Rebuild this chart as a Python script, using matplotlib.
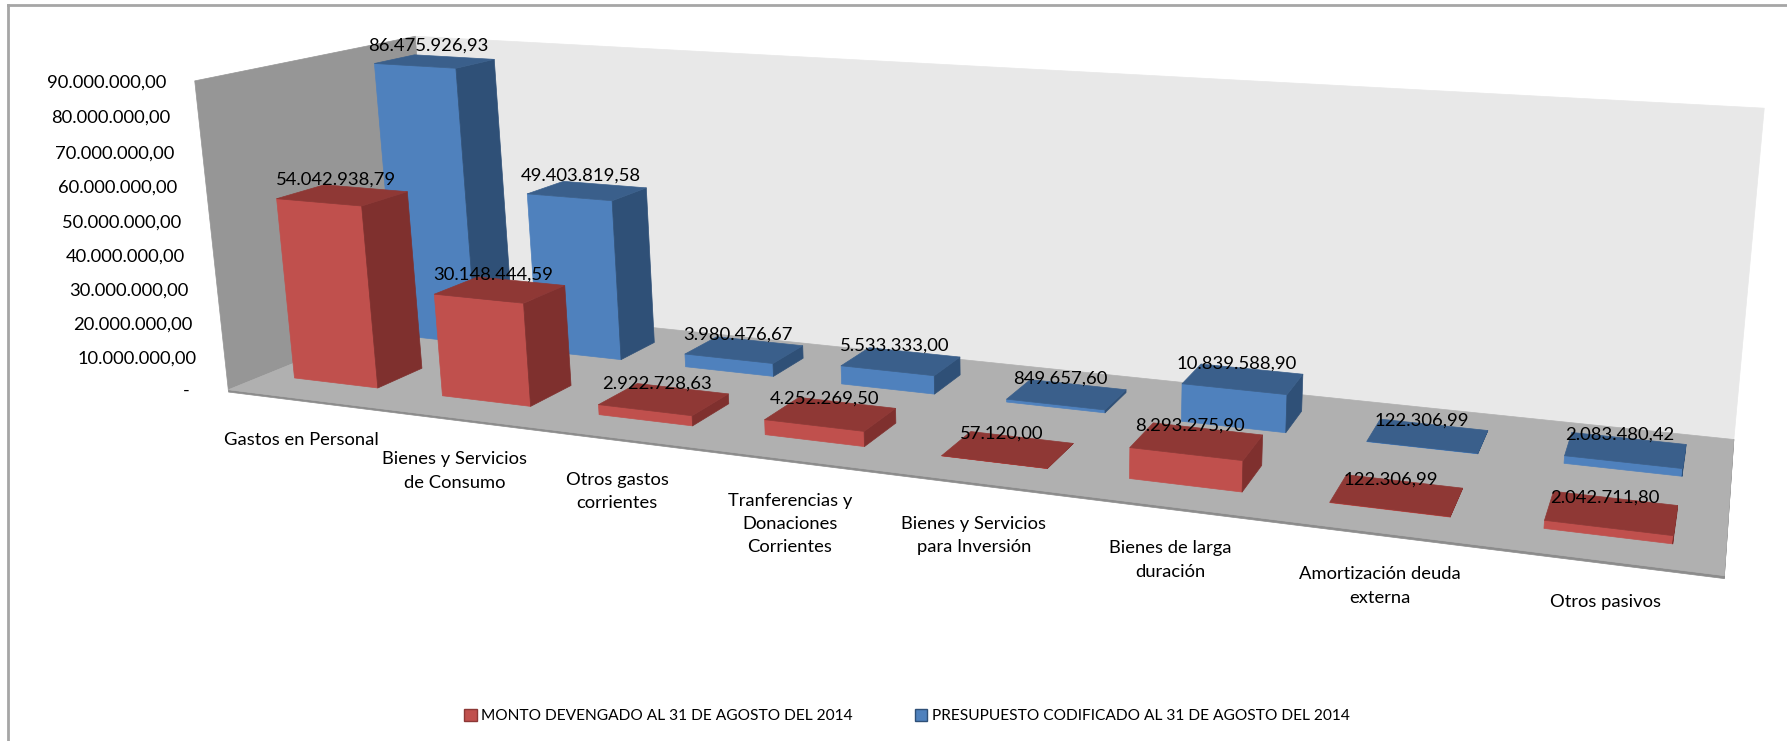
import numpy as np
import matplotlib
matplotlib.use("Agg")
import matplotlib.pyplot as plt
from matplotlib.axes import Axes
from matplotlib.lines import Line2D
from matplotlib.patches import Patch
from matplotlib.transforms import offset_copy
from mpl_toolkits.mplot3d import proj3d
from mpl_toolkits.mplot3d.art3d import Poly3DCollection

plt.rcParams['font.family'] = ['Lato', 'DejaVu Sans']

categories = ["Gastos en Personal", "Bienes y Servicios\nde Consumo", "Otros gastos\ncorrientes",
              "Tranferencias y\nDonaciones\nCorrientes", "Bienes y Servicios\npara Inversión",
              "Bienes de larga\nduración", "Amortización deuda\nexterna", "Otros pasivos"]
devengado = [54042938.79, 30148444.59, 2922728.63, 4252269.50, 57120.00, 8293275.90, 122306.99, 2042711.80]
codificado = [86475926.93, 49403819.58, 3980476.67, 5533333.00, 849657.60, 10839588.90, 122306.99, 2083480.42]
ticks = [10000000 * k for k in range(0, 10)]
name_dev = "MONTO DEVENGADO AL 31 DE AGOSTO DEL 2014"
name_cod = "PRESUPUESTO CODIFICADO AL 31 DE AGOSTO DEL 2014"

W, H = 1787, 741
ZMAX = 90000000.0
N = len(categories)


def fmt(v):
    s = f"{v:,.2f}"
    return s.replace(",", "#").replace(".", ",").replace("#", ".")


# camera calibration: world corners of the plot box -> image position
world = np.array([[0, 0, 0], [N, 0, 0], [0, 1, 0], [N, 1, 0], [0, 1, 1], [N, 1, 1], [0, 0, 1]], float)
image = np.array([[226, 388], [1724, 576], [438, 306], [1733, 438], [413, 35], [1764, 108], [196, 81]], float)
A = []
for (x, y, z), (u, v) in zip(world, image):
    p = [x, y, z, 1]
    A.append(p + [0, 0, 0, 0] + [-u * c for c in p])
    A.append([0, 0, 0, 0] + p + [-v * c for c in p])
P = np.linalg.svd(np.array(A))[2][-1].reshape(3, 4)
P[:, 2] /= ZMAX
M = np.array([P[0], P[1], [0, 1, 0, 0], P[2]])

fig = plt.figure(figsize=(W / 100, H / 100), dpi=100, facecolor='white')
ax = fig.add_axes([0, 0, 1, 1], projection='3d', computed_zorder=False)
ax.apply_aspect = lambda position=None: None
ax.set_position([0, 0, 1, 1])
ax.get_proj = lambda: M
ax.set_xticks([])
ax.set_yticks([])
ax.set_zticks([])
ax.set_axis_off()
ax.patch.set_visible(False)
ax.viewLim.intervalx = (0, W)
ax.viewLim.intervaly = (H, 0)


def poly(verts, color, z):
    c = Poly3DCollection([verts], facecolors=color, edgecolors=color, linewidths=0.5, zorder=z)
    ax.add_collection3d(c, autolim=False)


def label(x, y, z, s, off, **kw):
    px, py, _ = proj3d.proj_transform(x, y, z, M)
    Axes.text(ax, px, py, s, transform=off, color='black', zorder=60, **kw)


# walls and floor
SL = -700000
poly([(0, 1, 0), (N, 1, 0), (N, 1, ZMAX), (0, 1, ZMAX)], '#E8E8E8', 1)
poly([(0, 0, 0), (0, 1, 0), (0, 1, ZMAX), (0, 0, ZMAX)], '#969696', 2)
poly([(0, 0, SL), (N, 0, SL), (N, 0, 0), (0, 0, 0)], '#8C8C8C', 2)
poly([(N, 0, SL), (N, 1, SL), (N, 1, 0), (N, 0, 0)], '#8C8C8C', 2)
poly([(0, 0, 0), (N, 0, 0), (N, 1, 0), (0, 1, 0)], '#B0B0B0', 3)

BAR = 0.57
CENTER = 0.485
Y_DEV = (0.16, 0.37)
Y_COD = (0.65, 0.85)


def bar(i, v, yr, cols, z):
    x0, x1 = i + CENTER - BAR / 2, i + CENTER + BAR / 2
    y0, y1 = yr
    poly([(x0, y0, 0), (x1, y0, 0), (x1, y0, v), (x0, y0, v)], cols[0], z)
    poly([(x1, y0, 0), (x1, y1, 0), (x1, y1, v), (x1, y0, v)], cols[2], z)
    poly([(x0, y0, v), (x1, y0, v), (x1, y1, v), (x0, y1, v)], cols[1], z)


RED = ('#C0504D', '#8F3835', '#7F302E')
BLUE = ('#4F81BD', '#3A5F8B', '#2F5077')
for i in range(N):
    bar(i, codificado[i], Y_COD, BLUE, 10 + i)
for i in range(N):
    bar(i, devengado[i], Y_DEV, RED, 30 + i)

off_lab = offset_copy(ax.transData, fig, x=-6, y=15, units='dots')
off_tick = offset_copy(ax.transData, fig, x=-28, y=-2, units='dots')
off_zero = offset_copy(ax.transData, fig, x=-38, y=-2, units='dots')
off_cat = offset_copy(ax.transData, fig, x=0, y=-34, units='dots')

for vals, yr in ((codificado, Y_COD), (devengado, Y_DEV)):
    for i, v in enumerate(vals):
        label(i + CENTER, sum(yr) / 2, v, fmt(v), off_lab, ha='center', va='center', fontsize=13.3)
for t in ticks:
    label(0, 0, t, fmt(t) if t else "-", off_tick if t else off_zero, ha='right', va='center', fontsize=13.2)
for i, c in enumerate(categories):
    label(i + 0.5, 0, 0, c, off_cat, ha='center', va='top', fontsize=13.2, linespacing=1.55)

fig.add_artist(Line2D([8, 8], [0, H - 5], transform=None, color='#A6A6A6', lw=2))
fig.add_artist(Line2D([8, W], [H - 5, H - 5], transform=None, color='#A6A6A6', lw=2))

fig.legend(handles=[Patch(facecolor=RED[0], edgecolor='#8C3836', label=name_dev),
                    Patch(facecolor=BLUE[0], edgecolor='#2F5077', label=name_cod)],
           loc='center', bbox_to_anchor=(907 / W, 1 - 716 / H), ncols=2, frameon=False, fontsize=11.15,
           handlelength=0.8, handleheight=0.8, handletextpad=0.3, columnspacing=4.0)

fig.savefig('out.png', dpi=100)
